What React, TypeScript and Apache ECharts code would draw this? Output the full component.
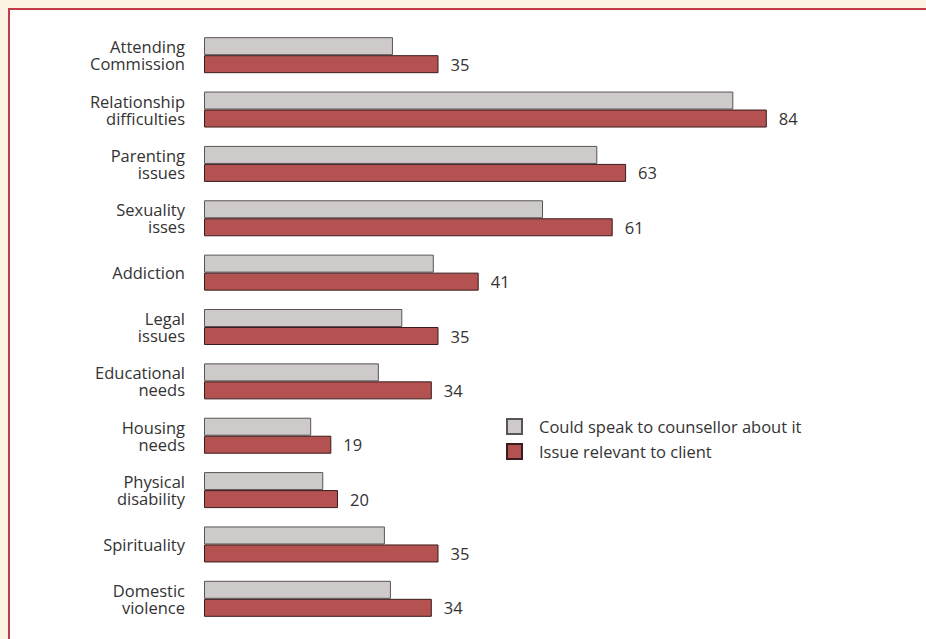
import React, { useEffect, useRef } from "react";
import * as echarts from "echarts";

const categories = [
  "Attending\nCommission",
  "Relationship\ndifficulties",
  "Parenting\nissues",
  "Sexuality\nisses",
  "Addiction",
  "Legal\nissues",
  "Educational\nneeds",
  "Housing\nneeds",
  "Physical\ndisability",
  "Spirituality",
  "Domestic\nviolence",
];
const couldSpeak = [28.2, 79, 58.7, 50.6, 34.3, 29.6, 26.1, 16, 17.8, 27, 27.9];
const relevant = [35, 84, 63, 61, 41, 35, 34, 19, 20, 35, 34];
const seriesNames = ["Could speak to counsellor about it", "Issue relevant to client"];

const FONT = "Open Sans";

export default function App() {
  const ref = useRef<HTMLDivElement>(null);
  useEffect(() => {
    if (!ref.current) return;
    const chart = echarts.init(ref.current, undefined, { renderer: "svg" });
    chart.setOption({
      animation: false,
      backgroundColor: "#fdf3e2",
      graphic: [
        {
          type: "rect",
          silent: true,
          z: -10,
          shape: { x: 9, y: 9, width: 917, height: 630 },
          style: { fill: "#ffffff" },
        },
        {
          type: "line",
          silent: true,
          z: -9,
          shape: { x1: 8, y1: 9, x2: 926, y2: 9 },
          style: { stroke: "#c23b46", lineWidth: 2 },
        },
        {
          type: "line",
          silent: true,
          z: -9,
          shape: { x1: 9, y1: 8, x2: 9, y2: 639 },
          style: { stroke: "#c23b46", lineWidth: 2 },
        },
      ],
      grid: { left: 204, top: 28, width: 670, height: 598, containLabel: false },
      xAxis: { type: "value", min: 0, max: 100, show: false },
      yAxis: {
        type: "category",
        data: categories,
        inverse: true,
        axisLine: { show: false },
        axisTick: { show: false },
        axisLabel: {
          margin: 19,
          fontFamily: FONT,
          fontSize: 16.5,
          lineHeight: 17,
          color: "#333333",
          align: "right",
        },
      },
      legend: {
        orient: "vertical",
        left: 506,
        top: 418,
        padding: 0,
        itemWidth: 15,
        itemHeight: 15,
        itemGap: 8,
        icon: "rect",
        textStyle: {
          fontFamily: FONT,
          fontSize: 16.5,
          lineHeight: 15,
          color: "#333333",
          padding: [0, 0, 0, 12],
        },
        data: seriesNames,
      },
      series: [
        {
          name: seriesNames[0],
          type: "bar",
          data: couldSpeak,
          barWidth: 18,
          barGap: "0%",
          itemStyle: { color: "#cfcaca", borderColor: "#5a5555", borderWidth: 1 },
        },
        {
          name: seriesNames[1],
          type: "bar",
          data: relevant,
          barWidth: 18,
          barGap: "0%",
          itemStyle: { color: "#b35250", borderColor: "#3a1c1c", borderWidth: 1 },
          label: {
            show: true,
            position: "right",
            distance: 12,
            fontFamily: FONT,
            fontSize: 16.5,
            color: "#333333",
          },
        },
      ],
    });
    return () => chart.dispose();
  }, []);
  return (
    <div style={{ position: "fixed", left: 0, top: 0, width: 926, height: 639 }}>
      <div ref={ref} style={{ width: 926, height: 639 }} />
    </div>
  );
}
